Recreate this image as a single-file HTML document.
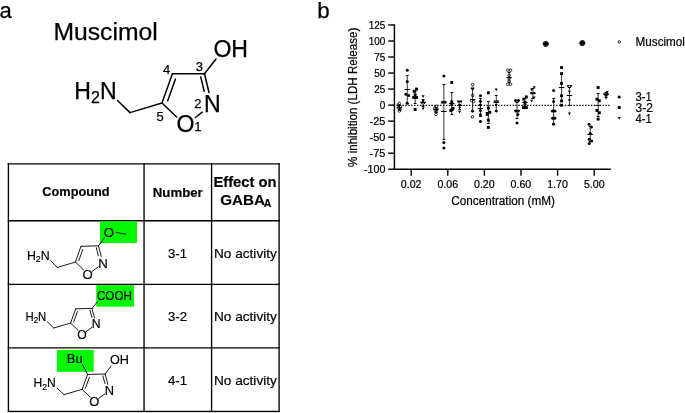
<!DOCTYPE html>
<html lang="en"><head><meta charset="utf-8"><title>Muscimol analogues</title>
<style>html,body{margin:0;padding:0;background:#fff;}svg{display:block}text{font-family:'Liberation Sans', Arial, Helvetica, sans-serif;fill:#000}</style>
</head><body>
<svg width="685" height="413" viewBox="0 0 685 413">
<rect x="0" y="0" width="685" height="413" fill="#fff"/>
<g id="labels" stroke="#000" stroke-width="0.25">
<text x="5.70" y="18.10" font-size="22" font-weight="normal" text-anchor="middle" >a</text>
<text x="323.50" y="18.30" font-size="22.3" font-weight="normal" text-anchor="middle" >b</text>
<text x="53.45" y="39.80" font-size="23.1" font-weight="normal" textLength="104.31" lengthAdjust="spacingAndGlyphs" >Muscimol</text>
</g>
<g id="muscimol" stroke-linecap="round">
<line x1="117.50" y1="100.50" x2="130.00" y2="112.60" stroke="#000" stroke-width="1.5" />
<line x1="130.00" y1="112.60" x2="162.00" y2="103.00" stroke="#000" stroke-width="1.5" />
<line x1="162.00" y1="103.00" x2="172.40" y2="73.80" stroke="#000" stroke-width="1.5" />
<line x1="167.69" y1="100.75" x2="175.38" y2="79.14" stroke="#000" stroke-width="1.5" />
<line x1="172.40" y1="73.80" x2="204.50" y2="73.80" stroke="#000" stroke-width="1.5" />
<line x1="204.50" y1="73.80" x2="216.00" y2="59.00" stroke="#000" stroke-width="1.5" />
<line x1="204.50" y1="73.80" x2="209.00" y2="92.50" stroke="#000" stroke-width="1.5" />
<line x1="200.76" y1="77.07" x2="204.18" y2="91.29" stroke="#000" stroke-width="1.5" />
<line x1="202.20" y1="112.20" x2="195.40" y2="117.50" stroke="#000" stroke-width="1.5" />
<line x1="176.60" y1="117.00" x2="162.00" y2="103.00" stroke="#000" stroke-width="1.5" />
</g>
<g id="muscimol-text">
<style>#muscimol-text text{stroke:#000;stroke-width:0.25px}</style>
<text x="74.3" y="98.6" font-size="23.1">H<tspan font-size="16" dy="4.2">2</tspan><tspan dy="-4.2">N</tspan></text>
<text x="213.41" y="56.90" font-size="23.1" >OH</text>
<text x="203.91" y="111.80" font-size="23.1" >N</text>
<text x="176.51" y="132.00" font-size="23.1" >O</text>
<g font-size="13" text-anchor="middle">
<text x="166.6" y="74.0">4</text>
<text x="199.4" y="71.2">3</text>
<text x="197.8" y="108.2">2</text>
<text x="197.8" y="130.9">1</text>
<text x="160" y="121.4">5</text>
</g>
</g>
<g id="table">
<style>#table text{stroke:#000;stroke-width:0.18px}</style>
<line x1="8.40" y1="163.17" x2="8.40" y2="412.07" stroke="#000" stroke-width="1.35" />
<line x1="144.05" y1="163.17" x2="144.05" y2="412.07" stroke="#000" stroke-width="1.35" />
<line x1="211.60" y1="163.17" x2="211.60" y2="412.07" stroke="#000" stroke-width="1.35" />
<line x1="279.10" y1="163.17" x2="279.10" y2="412.07" stroke="#000" stroke-width="1.35" />
<line x1="7.73" y1="163.85" x2="279.78" y2="163.85" stroke="#000" stroke-width="1.35" />
<line x1="7.73" y1="220.70" x2="279.78" y2="220.70" stroke="#000" stroke-width="1.35" />
<line x1="7.73" y1="284.30" x2="279.78" y2="284.30" stroke="#000" stroke-width="1.35" />
<line x1="7.73" y1="347.90" x2="279.78" y2="347.90" stroke="#000" stroke-width="1.35" />
<line x1="7.73" y1="411.40" x2="279.78" y2="411.40" stroke="#000" stroke-width="1.35" />
<line x1="7.7" y1="412.6" x2="279.8" y2="412.6" stroke="#d4d4d4" stroke-width="0.9"/>
<text x="42.32" y="196.30" font-size="13.6" font-weight="bold" textLength="67.26" lengthAdjust="spacingAndGlyphs" >Compound</text>
<text x="152.82" y="196.70" font-size="13.6" font-weight="bold" textLength="49.96" lengthAdjust="spacingAndGlyphs" >Number</text>
<text x="213.45" y="187.40" font-size="15" font-weight="bold" textLength="63.10" lengthAdjust="spacingAndGlyphs" >Effect on</text>
<text x="220.2" y="204.7" font-size="15.2" font-weight="bold">GABA<tspan font-size="10.5" dy="2.4" dx="-1.2">A</tspan></text>
<text x="167.94" y="257.70" font-size="13.2" font-weight="normal" textLength="19.12" lengthAdjust="spacingAndGlyphs" >3-1</text>
<text x="213.94" y="257.70" font-size="13.2" font-weight="normal" textLength="62.92" lengthAdjust="spacingAndGlyphs" >No activity</text>
<text x="167.94" y="321.40" font-size="13.2" font-weight="normal" textLength="19.12" lengthAdjust="spacingAndGlyphs" >3-2</text>
<text x="213.94" y="321.40" font-size="13.2" font-weight="normal" textLength="62.92" lengthAdjust="spacingAndGlyphs" >No activity</text>
<text x="167.94" y="385.10" font-size="13.2" font-weight="normal" textLength="19.12" lengthAdjust="spacingAndGlyphs" >4-1</text>
<text x="213.94" y="385.10" font-size="13.2" font-weight="normal" textLength="62.92" lengthAdjust="spacingAndGlyphs" >No activity</text>
</g>
<style>.st text{stroke:#000;stroke-width:0.2px}</style>
<g id="row1" class="st">
<rect x="100" y="221.3" width="37.0" height="21.7" fill="#00f900"/>
<g stroke-linecap="round">
<line x1="98.50" y1="245.80" x2="81.00" y2="246.30" stroke="#000" stroke-width="0.9" />
<line x1="81.00" y1="246.30" x2="75.50" y2="262.00" stroke="#000" stroke-width="0.9" />
<line x1="78.82" y1="260.69" x2="82.78" y2="249.39" stroke="#000" stroke-width="0.9" />
<line x1="75.50" y1="262.00" x2="57.30" y2="267.50" stroke="#000" stroke-width="0.9" />
<line x1="57.30" y1="267.50" x2="50.50" y2="260.60" stroke="#000" stroke-width="0.9" />
<line x1="75.50" y1="262.00" x2="83.70" y2="270.10" stroke="#000" stroke-width="0.9" />
<line x1="92.20" y1="271.40" x2="98.30" y2="266.80" stroke="#000" stroke-width="0.9" />
<line x1="98.50" y1="245.80" x2="101.20" y2="256.40" stroke="#000" stroke-width="0.9" />
<line x1="96.30" y1="247.71" x2="98.36" y2="255.77" stroke="#000" stroke-width="0.9" />
</g>
<text x="26.90" y="260.00" font-size="13.21" textLength="22.80" lengthAdjust="spacingAndGlyphs">H<tspan font-size="9.38" dy="2.30">2</tspan><tspan dy="-2.30">N</tspan></text>
<text x="87.60" y="279.10" font-size="13.206" font-weight="normal" text-anchor="middle" >O</text>
<text x="102.90" y="267.60" font-size="13.206" font-weight="normal" text-anchor="middle" >N</text>
<line x1="98.50" y1="245.80" x2="104.60" y2="237.60" stroke="#000" stroke-width="0.9" />
<text x="108.90" y="236.90" font-size="13.2" font-weight="normal" text-anchor="middle" >O</text>
<line x1="115.60" y1="232.20" x2="126.40" y2="234.30" stroke="#000" stroke-width="0.9" />
</g>
<g id="row2" class="st">
<rect x="96.3" y="285.2" width="37.7" height="21.5" fill="#00f900"/>
<g stroke-linecap="round">
<line x1="92.00" y1="308.40" x2="75.72" y2="308.85" stroke="#000" stroke-width="0.9" />
<line x1="75.72" y1="308.85" x2="70.61" y2="323.06" stroke="#000" stroke-width="0.9" />
<line x1="73.69" y1="321.92" x2="77.37" y2="311.69" stroke="#000" stroke-width="0.9" />
<line x1="70.61" y1="323.06" x2="53.68" y2="328.04" stroke="#000" stroke-width="0.9" />
<line x1="53.68" y1="328.04" x2="47.36" y2="321.79" stroke="#000" stroke-width="0.9" />
<line x1="70.61" y1="323.06" x2="78.24" y2="330.39" stroke="#000" stroke-width="0.9" />
<line x1="86.14" y1="331.57" x2="91.81" y2="327.40" stroke="#000" stroke-width="0.9" />
<line x1="92.00" y1="308.40" x2="94.51" y2="317.99" stroke="#000" stroke-width="0.9" />
<line x1="89.96" y1="310.16" x2="91.87" y2="317.45" stroke="#000" stroke-width="0.9" />
</g>
<text x="25.41" y="321.25" font-size="12.12" textLength="20.92" lengthAdjust="spacingAndGlyphs">H<tspan font-size="8.60" dy="2.08">2</tspan><tspan dy="-2.08">N</tspan></text>
<text x="81.86" y="338.54" font-size="12.116505" font-weight="normal" text-anchor="middle" >O</text>
<text x="96.09" y="328.13" font-size="12.116505" font-weight="normal" text-anchor="middle" >N</text>
<line x1="92.00" y1="308.40" x2="97.60" y2="301.60" stroke="#000" stroke-width="0.9" />
<text x="96.94" y="299.60" font-size="13.2" font-weight="normal" textLength="34.92" lengthAdjust="spacingAndGlyphs" >COOH</text>
</g>
<g id="row3" class="st">
<rect x="56.9" y="349.9" width="36.8" height="21.9" fill="#00f900"/>
<g stroke-linecap="round">
<line x1="105.10" y1="374.00" x2="87.60" y2="374.48" stroke="#000" stroke-width="0.9" />
<line x1="87.60" y1="374.48" x2="82.10" y2="389.39" stroke="#000" stroke-width="0.9" />
<line x1="85.40" y1="388.24" x2="89.36" y2="377.50" stroke="#000" stroke-width="0.9" />
<line x1="82.10" y1="389.39" x2="63.90" y2="394.62" stroke="#000" stroke-width="0.9" />
<line x1="63.90" y1="394.62" x2="57.10" y2="388.06" stroke="#000" stroke-width="0.9" />
<line x1="82.10" y1="389.39" x2="90.30" y2="397.08" stroke="#000" stroke-width="0.9" />
<line x1="98.80" y1="398.32" x2="104.90" y2="393.95" stroke="#000" stroke-width="0.9" />
<line x1="105.10" y1="374.00" x2="107.80" y2="384.07" stroke="#000" stroke-width="0.9" />
<line x1="102.91" y1="375.88" x2="104.96" y2="383.53" stroke="#000" stroke-width="0.9" />
</g>
<text x="33.50" y="387.49" font-size="12.88" textLength="22.23" lengthAdjust="spacingAndGlyphs">H<tspan font-size="9.14" dy="2.18">2</tspan><tspan dy="-2.18">N</tspan></text>
<text x="94.20" y="405.63" font-size="12.87585" font-weight="normal" text-anchor="middle" >O</text>
<text x="109.50" y="394.71" font-size="12.87585" font-weight="normal" text-anchor="middle" >N</text>
<line x1="105.10" y1="374.00" x2="111.20" y2="365.80" stroke="#000" stroke-width="0.9" />
<text x="109.94" y="364.20" font-size="13.2" font-weight="normal" textLength="18.92" lengthAdjust="spacingAndGlyphs" >OH</text>
<line x1="87.60" y1="374.50" x2="82.20" y2="364.00" stroke="#000" stroke-width="0.9" />
<text x="66.74" y="363.10" font-size="13.2" font-weight="normal" textLength="15.92" lengthAdjust="spacingAndGlyphs" >Bu</text>
</g>
<g id="chart" style="paint-order:stroke">
<style>#chart text{stroke:#000;stroke-width:0.22px}</style>
<line x1="394.40" y1="24.25" x2="394.40" y2="169.92" stroke="#000" stroke-width="1.4" />
<line x1="393.70" y1="169.22" x2="610.80" y2="169.22" stroke="#000" stroke-width="1.4" />
<line x1="388.20" y1="24.95" x2="394.40" y2="24.95" stroke="#000" stroke-width="1.4" />
<text x="368.72" y="29.20" font-size="10.3" textLength="16.68" lengthAdjust="spacingAndGlyphs">125</text>
<line x1="388.20" y1="40.98" x2="394.40" y2="40.98" stroke="#000" stroke-width="1.4" />
<text x="368.72" y="45.23" font-size="10.3" textLength="16.68" lengthAdjust="spacingAndGlyphs">100</text>
<line x1="388.20" y1="57.01" x2="394.40" y2="57.01" stroke="#000" stroke-width="1.4" />
<text x="374.28" y="61.26" font-size="10.3" textLength="11.12" lengthAdjust="spacingAndGlyphs">75</text>
<line x1="388.20" y1="73.04" x2="394.40" y2="73.04" stroke="#000" stroke-width="1.4" />
<text x="374.28" y="77.29" font-size="10.3" textLength="11.12" lengthAdjust="spacingAndGlyphs">50</text>
<line x1="388.20" y1="89.07" x2="394.40" y2="89.07" stroke="#000" stroke-width="1.4" />
<text x="374.28" y="93.32" font-size="10.3" textLength="11.12" lengthAdjust="spacingAndGlyphs">25</text>
<line x1="388.20" y1="105.10" x2="394.40" y2="105.10" stroke="#000" stroke-width="1.4" />
<text x="379.84" y="109.35" font-size="10.3" textLength="5.56" lengthAdjust="spacingAndGlyphs">0</text>
<line x1="388.20" y1="121.13" x2="394.40" y2="121.13" stroke="#000" stroke-width="1.4" />
<text x="369.55" y="125.38" font-size="10.3" textLength="15.85" lengthAdjust="spacingAndGlyphs">-25</text>
<line x1="388.20" y1="137.16" x2="394.40" y2="137.16" stroke="#000" stroke-width="1.4" />
<text x="369.55" y="141.41" font-size="10.3" textLength="15.85" lengthAdjust="spacingAndGlyphs">-50</text>
<line x1="388.20" y1="153.19" x2="394.40" y2="153.19" stroke="#000" stroke-width="1.4" />
<text x="369.55" y="157.44" font-size="10.3" textLength="15.85" lengthAdjust="spacingAndGlyphs">-75</text>
<line x1="388.20" y1="169.22" x2="394.40" y2="169.22" stroke="#000" stroke-width="1.4" />
<text x="363.99" y="173.47" font-size="10.3" textLength="21.41" lengthAdjust="spacingAndGlyphs">-100</text>
<line x1="411.20" y1="169.22" x2="411.20" y2="175.70" stroke="#000" stroke-width="1.4" />
<text x="400.8" y="187.8" font-size="10.4" textLength="20.7" lengthAdjust="spacingAndGlyphs">0.02</text>
<line x1="447.80" y1="169.22" x2="447.80" y2="175.70" stroke="#000" stroke-width="1.4" />
<text x="437.4" y="187.8" font-size="10.4" textLength="20.7" lengthAdjust="spacingAndGlyphs">0.06</text>
<line x1="484.40" y1="169.22" x2="484.40" y2="175.70" stroke="#000" stroke-width="1.4" />
<text x="474.0" y="187.8" font-size="10.4" textLength="20.7" lengthAdjust="spacingAndGlyphs">0.20</text>
<line x1="521.00" y1="169.22" x2="521.00" y2="175.70" stroke="#000" stroke-width="1.4" />
<text x="510.6" y="187.8" font-size="10.4" textLength="20.7" lengthAdjust="spacingAndGlyphs">0.60</text>
<line x1="557.60" y1="169.22" x2="557.60" y2="175.70" stroke="#000" stroke-width="1.4" />
<text x="547.2" y="187.8" font-size="10.4" textLength="20.7" lengthAdjust="spacingAndGlyphs">1.70</text>
<line x1="594.20" y1="169.22" x2="594.20" y2="175.70" stroke="#000" stroke-width="1.4" />
<text x="583.9" y="187.8" font-size="10.4" textLength="20.7" lengthAdjust="spacingAndGlyphs">5.00</text>
<line x1="393.70" y1="105.30" x2="610.00" y2="105.30" stroke="#000" stroke-width="1.2" stroke-dasharray="1.4 1.5"/>
<text x="451.29" y="204.80" font-size="12.1" font-weight="normal" textLength="103.61" lengthAdjust="spacingAndGlyphs" >Concentration (mM)</text>
<text transform="translate(356.9 166.9) rotate(-90)" font-size="12" textLength="139.2" lengthAdjust="spacingAndGlyphs">% inhibition (LDH Release)</text>
<line x1="399.35" y1="105.50" x2="399.35" y2="109.50" stroke="#000" stroke-width="0.8" />
<line x1="397.95" y1="105.50" x2="400.75" y2="105.50" stroke="#000" stroke-width="1.0" />
<line x1="397.95" y1="109.50" x2="400.75" y2="109.50" stroke="#000" stroke-width="1.0" />
<line x1="396.65" y1="107.50" x2="402.05" y2="107.50" stroke="#000" stroke-width="1.0" />
<circle cx="399.35" cy="103.50" r="1.3" fill="none" stroke="#000" stroke-width="0.8"/>
<circle cx="398.35" cy="105.00" r="1.3" fill="none" stroke="#000" stroke-width="0.8"/>
<circle cx="400.35" cy="106.50" r="1.3" fill="none" stroke="#000" stroke-width="0.8"/>
<circle cx="398.55" cy="108.00" r="1.3" fill="none" stroke="#000" stroke-width="0.8"/>
<circle cx="400.15" cy="109.50" r="1.3" fill="none" stroke="#000" stroke-width="0.8"/>
<circle cx="399.35" cy="111.00" r="1.3" fill="none" stroke="#000" stroke-width="0.8"/>
<line x1="407.25" y1="75.50" x2="407.25" y2="103.50" stroke="#000" stroke-width="0.8" />
<line x1="405.85" y1="75.50" x2="408.65" y2="75.50" stroke="#000" stroke-width="1.0" />
<line x1="405.85" y1="103.50" x2="408.65" y2="103.50" stroke="#000" stroke-width="1.0" />
<line x1="404.55" y1="89.50" x2="409.95" y2="89.50" stroke="#000" stroke-width="1.0" />
<circle cx="407.25" cy="70.20" r="1.5" fill="#000"/>
<circle cx="407.25" cy="81.40" r="1.5" fill="#000"/>
<circle cx="405.85" cy="94.20" r="1.5" fill="#000"/>
<circle cx="408.65" cy="95.60" r="1.5" fill="#000"/>
<circle cx="407.25" cy="103.20" r="1.5" fill="#000"/>
<line x1="415.15" y1="91.50" x2="415.15" y2="103.50" stroke="#000" stroke-width="0.8" />
<line x1="413.75" y1="91.50" x2="416.55" y2="91.50" stroke="#000" stroke-width="1.0" />
<line x1="413.75" y1="103.50" x2="416.55" y2="103.50" stroke="#000" stroke-width="1.0" />
<line x1="412.45" y1="97.50" x2="417.85" y2="97.50" stroke="#000" stroke-width="1.0" />
<rect x="415.10" y="87.65" width="2.9" height="2.9" fill="#000"/>
<rect x="412.70" y="89.85" width="2.9" height="2.9" fill="#000"/>
<rect x="413.70" y="93.45" width="2.9" height="2.9" fill="#000"/>
<rect x="412.30" y="96.05" width="2.9" height="2.9" fill="#000"/>
<rect x="415.10" y="96.05" width="2.9" height="2.9" fill="#000"/>
<rect x="413.70" y="108.05" width="2.9" height="2.9" fill="#000"/>
<line x1="423.05" y1="99.50" x2="423.05" y2="106.50" stroke="#000" stroke-width="0.8" />
<line x1="421.65" y1="99.50" x2="424.45" y2="99.50" stroke="#000" stroke-width="1.0" />
<line x1="421.65" y1="106.50" x2="424.45" y2="106.50" stroke="#000" stroke-width="1.0" />
<line x1="420.35" y1="102.50" x2="425.75" y2="102.50" stroke="#000" stroke-width="1.0" />
<path d="M421.55 95.20L424.55 95.20L423.05 98.00Z" fill="#000"/>
<path d="M421.55 100.00L424.55 100.00L423.05 102.80Z" fill="#000"/>
<path d="M420.15 101.70L423.15 101.70L421.65 104.50Z" fill="#000"/>
<path d="M422.95 101.70L425.95 101.70L424.45 104.50Z" fill="#000"/>
<path d="M421.55 105.30L424.55 105.30L423.05 108.10Z" fill="#000"/>
<path d="M421.55 107.50L424.55 107.50L423.05 110.30Z" fill="#000"/>
<line x1="435.95" y1="107.50" x2="435.95" y2="112.50" stroke="#000" stroke-width="0.8" />
<line x1="434.55" y1="107.50" x2="437.35" y2="107.50" stroke="#000" stroke-width="1.0" />
<line x1="434.55" y1="112.50" x2="437.35" y2="112.50" stroke="#000" stroke-width="1.0" />
<line x1="433.25" y1="109.50" x2="438.65" y2="109.50" stroke="#000" stroke-width="1.0" />
<circle cx="436.45" cy="106.50" r="1.3" fill="none" stroke="#000" stroke-width="0.8"/>
<circle cx="434.95" cy="108.00" r="1.3" fill="none" stroke="#000" stroke-width="0.8"/>
<circle cx="436.95" cy="109.00" r="1.3" fill="none" stroke="#000" stroke-width="0.8"/>
<circle cx="435.45" cy="110.50" r="1.3" fill="none" stroke="#000" stroke-width="0.8"/>
<circle cx="436.45" cy="111.50" r="1.3" fill="none" stroke="#000" stroke-width="0.8"/>
<circle cx="435.95" cy="114.30" r="1.3" fill="none" stroke="#000" stroke-width="0.8"/>
<line x1="443.85" y1="84.50" x2="443.85" y2="139.50" stroke="#000" stroke-width="0.8" />
<line x1="442.45" y1="84.50" x2="445.25" y2="84.50" stroke="#000" stroke-width="1.0" />
<line x1="442.45" y1="139.50" x2="445.25" y2="139.50" stroke="#000" stroke-width="1.0" />
<line x1="441.15" y1="111.50" x2="446.55" y2="111.50" stroke="#000" stroke-width="1.0" />
<circle cx="443.85" cy="76.10" r="1.5" fill="#000"/>
<circle cx="442.45" cy="102.30" r="1.5" fill="#000"/>
<circle cx="445.25" cy="102.30" r="1.5" fill="#000"/>
<circle cx="443.85" cy="142.60" r="1.5" fill="#000"/>
<circle cx="443.85" cy="148.10" r="1.5" fill="#000"/>
<line x1="451.75" y1="92.50" x2="451.75" y2="114.50" stroke="#000" stroke-width="0.8" />
<line x1="450.35" y1="92.50" x2="453.15" y2="92.50" stroke="#000" stroke-width="1.0" />
<line x1="450.35" y1="114.50" x2="453.15" y2="114.50" stroke="#000" stroke-width="1.0" />
<line x1="449.05" y1="103.50" x2="454.45" y2="103.50" stroke="#000" stroke-width="1.0" />
<rect x="450.30" y="81.05" width="2.9" height="2.9" fill="#000"/>
<rect x="450.30" y="100.35" width="2.9" height="2.9" fill="#000"/>
<rect x="450.30" y="102.95" width="2.9" height="2.9" fill="#000"/>
<rect x="451.50" y="106.85" width="2.9" height="2.9" fill="#000"/>
<rect x="449.40" y="109.05" width="2.9" height="2.9" fill="#000"/>
<rect x="450.70" y="108.15" width="2.9" height="2.9" fill="#000"/>
<line x1="459.65" y1="101.50" x2="459.65" y2="109.50" stroke="#000" stroke-width="0.8" />
<line x1="458.25" y1="101.50" x2="461.05" y2="101.50" stroke="#000" stroke-width="1.0" />
<line x1="458.25" y1="109.50" x2="461.05" y2="109.50" stroke="#000" stroke-width="1.0" />
<line x1="456.95" y1="105.50" x2="462.35" y2="105.50" stroke="#000" stroke-width="1.0" />
<path d="M456.75 100.60L459.75 100.60L458.25 103.40Z" fill="#000"/>
<path d="M459.55 100.60L462.55 100.60L461.05 103.40Z" fill="#000"/>
<path d="M458.15 104.00L461.15 104.00L459.65 106.80Z" fill="#000"/>
<path d="M458.15 106.80L461.15 106.80L459.65 109.60Z" fill="#000"/>
<path d="M458.15 110.70L461.15 110.70L459.65 113.50Z" fill="#000"/>
<line x1="472.55" y1="88.50" x2="472.55" y2="111.50" stroke="#000" stroke-width="0.8" />
<line x1="471.15" y1="88.50" x2="473.95" y2="88.50" stroke="#000" stroke-width="1.0" />
<line x1="471.15" y1="111.50" x2="473.95" y2="111.50" stroke="#000" stroke-width="1.0" />
<line x1="469.85" y1="99.50" x2="475.25" y2="99.50" stroke="#000" stroke-width="1.0" />
<circle cx="472.55" cy="84.50" r="1.3" fill="none" stroke="#000" stroke-width="0.8"/>
<circle cx="472.55" cy="88.40" r="1.3" fill="none" stroke="#000" stroke-width="0.8"/>
<circle cx="472.55" cy="95.40" r="1.3" fill="none" stroke="#000" stroke-width="0.8"/>
<circle cx="471.55" cy="100.40" r="1.3" fill="none" stroke="#000" stroke-width="0.8"/>
<circle cx="473.55" cy="101.50" r="1.3" fill="none" stroke="#000" stroke-width="0.8"/>
<circle cx="472.55" cy="111.10" r="1.3" fill="none" stroke="#000" stroke-width="0.8"/>
<circle cx="472.55" cy="116.90" r="1.3" fill="none" stroke="#000" stroke-width="0.8"/>
<line x1="480.45" y1="98.50" x2="480.45" y2="116.50" stroke="#000" stroke-width="0.8" />
<line x1="479.05" y1="98.50" x2="481.85" y2="98.50" stroke="#000" stroke-width="1.0" />
<line x1="479.05" y1="116.50" x2="481.85" y2="116.50" stroke="#000" stroke-width="1.0" />
<line x1="477.75" y1="108.50" x2="483.15" y2="108.50" stroke="#000" stroke-width="1.0" />
<circle cx="480.45" cy="95.70" r="1.5" fill="#000"/>
<circle cx="480.45" cy="101.30" r="1.5" fill="#000"/>
<circle cx="480.45" cy="104.90" r="1.5" fill="#000"/>
<circle cx="480.45" cy="110.60" r="1.5" fill="#000"/>
<circle cx="480.45" cy="114.80" r="1.5" fill="#000"/>
<circle cx="480.45" cy="121.60" r="1.5" fill="#000"/>
<line x1="488.35" y1="101.50" x2="488.35" y2="123.50" stroke="#000" stroke-width="0.8" />
<line x1="486.95" y1="101.50" x2="489.75" y2="101.50" stroke="#000" stroke-width="1.0" />
<line x1="486.95" y1="123.50" x2="489.75" y2="123.50" stroke="#000" stroke-width="1.0" />
<line x1="485.65" y1="112.50" x2="491.05" y2="112.50" stroke="#000" stroke-width="1.0" />
<rect x="486.90" y="91.35" width="2.9" height="2.9" fill="#000"/>
<rect x="486.90" y="106.65" width="2.9" height="2.9" fill="#000"/>
<rect x="488.30" y="110.85" width="2.9" height="2.9" fill="#000"/>
<rect x="485.70" y="112.95" width="2.9" height="2.9" fill="#000"/>
<rect x="486.90" y="118.65" width="2.9" height="2.9" fill="#000"/>
<rect x="486.90" y="125.95" width="2.9" height="2.9" fill="#000"/>
<line x1="496.25" y1="95.50" x2="496.25" y2="111.50" stroke="#000" stroke-width="0.8" />
<line x1="494.85" y1="95.50" x2="497.65" y2="95.50" stroke="#000" stroke-width="1.0" />
<line x1="494.85" y1="111.50" x2="497.65" y2="111.50" stroke="#000" stroke-width="1.0" />
<line x1="493.55" y1="102.50" x2="498.95" y2="102.50" stroke="#000" stroke-width="1.0" />
<path d="M494.75 88.50L497.75 88.50L496.25 91.30Z" fill="#000"/>
<path d="M493.35 100.40L496.35 100.40L494.85 103.20Z" fill="#000"/>
<path d="M496.15 100.40L499.15 100.40L497.65 103.20Z" fill="#000"/>
<path d="M494.75 104.00L497.75 104.00L496.25 106.80Z" fill="#000"/>
<path d="M494.75 110.10L497.75 110.10L496.25 112.90Z" fill="#000"/>
<line x1="509.15" y1="72.50" x2="509.15" y2="82.50" stroke="#000" stroke-width="0.8" />
<line x1="507.75" y1="72.50" x2="510.55" y2="72.50" stroke="#000" stroke-width="1.0" />
<line x1="507.75" y1="82.50" x2="510.55" y2="82.50" stroke="#000" stroke-width="1.0" />
<line x1="506.45" y1="77.50" x2="511.85" y2="77.50" stroke="#000" stroke-width="1.0" />
<circle cx="507.75" cy="70.20" r="1.3" fill="none" stroke="#000" stroke-width="0.8"/>
<circle cx="510.55" cy="70.20" r="1.3" fill="none" stroke="#000" stroke-width="0.8"/>
<circle cx="509.15" cy="75.40" r="1.3" fill="none" stroke="#000" stroke-width="0.8"/>
<circle cx="509.15" cy="78.50" r="1.3" fill="none" stroke="#000" stroke-width="0.8"/>
<circle cx="509.15" cy="81.10" r="1.3" fill="none" stroke="#000" stroke-width="0.8"/>
<circle cx="507.75" cy="84.30" r="1.3" fill="none" stroke="#000" stroke-width="0.8"/>
<circle cx="510.55" cy="84.30" r="1.3" fill="none" stroke="#000" stroke-width="0.8"/>
<line x1="517.05" y1="102.50" x2="517.05" y2="118.50" stroke="#000" stroke-width="0.8" />
<line x1="515.65" y1="102.50" x2="518.45" y2="102.50" stroke="#000" stroke-width="1.0" />
<line x1="515.65" y1="118.50" x2="518.45" y2="118.50" stroke="#000" stroke-width="1.0" />
<line x1="514.35" y1="110.50" x2="519.75" y2="110.50" stroke="#000" stroke-width="1.0" />
<circle cx="515.65" cy="100.50" r="1.5" fill="#000"/>
<circle cx="518.45" cy="100.50" r="1.5" fill="#000"/>
<circle cx="515.85" cy="111.00" r="1.5" fill="#000"/>
<circle cx="518.25" cy="111.00" r="1.5" fill="#000"/>
<circle cx="517.85" cy="114.40" r="1.5" fill="#000"/>
<circle cx="517.05" cy="123.00" r="1.5" fill="#000"/>
<line x1="524.95" y1="98.50" x2="524.95" y2="107.50" stroke="#000" stroke-width="0.8" />
<line x1="523.55" y1="98.50" x2="526.35" y2="98.50" stroke="#000" stroke-width="1.0" />
<line x1="523.55" y1="107.50" x2="526.35" y2="107.50" stroke="#000" stroke-width="1.0" />
<line x1="522.25" y1="102.50" x2="527.65" y2="102.50" stroke="#000" stroke-width="1.0" />
<rect x="524.90" y="95.45" width="2.9" height="2.9" fill="#000"/>
<rect x="522.30" y="97.65" width="2.9" height="2.9" fill="#000"/>
<rect x="523.50" y="100.95" width="2.9" height="2.9" fill="#000"/>
<rect x="523.50" y="104.05" width="2.9" height="2.9" fill="#000"/>
<rect x="522.10" y="106.15" width="2.9" height="2.9" fill="#000"/>
<rect x="524.90" y="106.15" width="2.9" height="2.9" fill="#000"/>
<line x1="532.85" y1="88.50" x2="532.85" y2="98.50" stroke="#000" stroke-width="0.8" />
<line x1="531.45" y1="88.50" x2="534.25" y2="88.50" stroke="#000" stroke-width="1.0" />
<line x1="531.45" y1="98.50" x2="534.25" y2="98.50" stroke="#000" stroke-width="1.0" />
<line x1="530.15" y1="93.50" x2="535.55" y2="93.50" stroke="#000" stroke-width="1.0" />
<path d="M532.75 86.20L535.75 86.20L534.25 89.00Z" fill="#000"/>
<path d="M530.15 88.50L533.15 88.50L531.65 91.30Z" fill="#000"/>
<path d="M529.95 91.90L532.95 91.90L531.45 94.70Z" fill="#000"/>
<path d="M532.75 91.90L535.75 91.90L534.25 94.70Z" fill="#000"/>
<path d="M532.55 96.50L535.55 96.50L534.05 99.30Z" fill="#000"/>
<path d="M530.15 99.70L533.15 99.70L531.65 102.50Z" fill="#000"/>
<line x1="545.75" y1="43.50" x2="545.75" y2="44.50" stroke="#000" stroke-width="0.8" />
<line x1="544.35" y1="43.50" x2="547.15" y2="43.50" stroke="#000" stroke-width="1.0" />
<line x1="544.35" y1="44.50" x2="547.15" y2="44.50" stroke="#000" stroke-width="1.0" />
<line x1="543.05" y1="43.50" x2="548.45" y2="43.50" stroke="#000" stroke-width="1.0" />
<circle cx="544.45" cy="43.10" r="1.3" fill="none" stroke="#000" stroke-width="0.8"/>
<circle cx="547.05" cy="44.50" r="1.3" fill="none" stroke="#000" stroke-width="0.8"/>
<circle cx="545.15" cy="45.10" r="1.3" fill="none" stroke="#000" stroke-width="0.8"/>
<circle cx="546.45" cy="42.70" r="1.3" fill="none" stroke="#000" stroke-width="0.8"/>
<circle cx="545.75" cy="43.90" r="1.3" fill="none" stroke="#000" stroke-width="0.8"/>
<circle cx="544.55" cy="44.40" r="1.3" fill="none" stroke="#000" stroke-width="0.8"/>
<circle cx="546.85" cy="43.40" r="1.3" fill="none" stroke="#000" stroke-width="0.8"/>
<circle cx="545.95" cy="45.20" r="1.3" fill="none" stroke="#000" stroke-width="0.8"/>
<circle cx="545.45" cy="42.80" r="1.3" fill="none" stroke="#000" stroke-width="0.8"/>
<line x1="553.65" y1="98.50" x2="553.65" y2="123.50" stroke="#000" stroke-width="0.8" />
<line x1="552.25" y1="98.50" x2="555.05" y2="98.50" stroke="#000" stroke-width="1.0" />
<line x1="552.25" y1="123.50" x2="555.05" y2="123.50" stroke="#000" stroke-width="1.0" />
<line x1="550.95" y1="111.50" x2="556.35" y2="111.50" stroke="#000" stroke-width="1.0" />
<circle cx="553.65" cy="90.40" r="1.5" fill="#000"/>
<circle cx="553.65" cy="101.40" r="1.5" fill="#000"/>
<circle cx="552.45" cy="111.00" r="1.5" fill="#000"/>
<circle cx="554.85" cy="111.00" r="1.5" fill="#000"/>
<circle cx="552.65" cy="118.20" r="1.5" fill="#000"/>
<circle cx="554.85" cy="118.20" r="1.5" fill="#000"/>
<circle cx="553.65" cy="124.30" r="1.5" fill="#000"/>
<line x1="561.55" y1="74.50" x2="561.55" y2="101.50" stroke="#000" stroke-width="0.8" />
<line x1="560.15" y1="74.50" x2="562.95" y2="74.50" stroke="#000" stroke-width="1.0" />
<line x1="560.15" y1="101.50" x2="562.95" y2="101.50" stroke="#000" stroke-width="1.0" />
<line x1="558.85" y1="87.50" x2="564.25" y2="87.50" stroke="#000" stroke-width="1.0" />
<rect x="560.10" y="66.05" width="2.9" height="2.9" fill="#000"/>
<rect x="560.10" y="72.15" width="2.9" height="2.9" fill="#000"/>
<rect x="560.10" y="81.95" width="2.9" height="2.9" fill="#000"/>
<rect x="560.10" y="94.35" width="2.9" height="2.9" fill="#000"/>
<rect x="560.10" y="99.55" width="2.9" height="2.9" fill="#000"/>
<rect x="560.10" y="103.75" width="2.9" height="2.9" fill="#000"/>
<line x1="569.45" y1="87.50" x2="569.45" y2="105.50" stroke="#000" stroke-width="0.8" />
<line x1="568.05" y1="87.50" x2="570.85" y2="87.50" stroke="#000" stroke-width="1.0" />
<line x1="568.05" y1="105.50" x2="570.85" y2="105.50" stroke="#000" stroke-width="1.0" />
<line x1="566.75" y1="95.50" x2="572.15" y2="95.50" stroke="#000" stroke-width="1.0" />
<path d="M566.55 84.90L569.55 84.90L568.05 87.70Z" fill="#000"/>
<path d="M569.35 84.90L572.35 84.90L570.85 87.70Z" fill="#000"/>
<path d="M567.95 90.80L570.95 90.80L569.45 93.60Z" fill="#000"/>
<path d="M567.95 99.30L570.95 99.30L569.45 102.10Z" fill="#000"/>
<path d="M567.95 112.40L570.95 112.40L569.45 115.20Z" fill="#000"/>
<line x1="582.35" y1="42.50" x2="582.35" y2="43.50" stroke="#000" stroke-width="0.8" />
<line x1="580.95" y1="42.50" x2="583.75" y2="42.50" stroke="#000" stroke-width="1.0" />
<line x1="580.95" y1="43.50" x2="583.75" y2="43.50" stroke="#000" stroke-width="1.0" />
<line x1="579.65" y1="43.50" x2="585.05" y2="43.50" stroke="#000" stroke-width="1.0" />
<circle cx="581.05" cy="42.30" r="1.3" fill="none" stroke="#000" stroke-width="0.8"/>
<circle cx="583.65" cy="43.70" r="1.3" fill="none" stroke="#000" stroke-width="0.8"/>
<circle cx="581.75" cy="44.30" r="1.3" fill="none" stroke="#000" stroke-width="0.8"/>
<circle cx="583.05" cy="41.90" r="1.3" fill="none" stroke="#000" stroke-width="0.8"/>
<circle cx="582.35" cy="43.10" r="1.3" fill="none" stroke="#000" stroke-width="0.8"/>
<circle cx="581.15" cy="43.60" r="1.3" fill="none" stroke="#000" stroke-width="0.8"/>
<circle cx="583.45" cy="42.60" r="1.3" fill="none" stroke="#000" stroke-width="0.8"/>
<circle cx="582.55" cy="44.40" r="1.3" fill="none" stroke="#000" stroke-width="0.8"/>
<circle cx="582.05" cy="42.00" r="1.3" fill="none" stroke="#000" stroke-width="0.8"/>
<line x1="590.25" y1="126.50" x2="590.25" y2="141.50" stroke="#000" stroke-width="0.8" />
<line x1="588.85" y1="126.50" x2="591.65" y2="126.50" stroke="#000" stroke-width="1.0" />
<line x1="588.85" y1="141.50" x2="591.65" y2="141.50" stroke="#000" stroke-width="1.0" />
<line x1="587.55" y1="134.50" x2="592.95" y2="134.50" stroke="#000" stroke-width="1.0" />
<circle cx="589.05" cy="124.30" r="1.5" fill="#000"/>
<circle cx="591.45" cy="126.90" r="1.5" fill="#000"/>
<circle cx="590.25" cy="133.50" r="1.5" fill="#000"/>
<circle cx="589.25" cy="139.30" r="1.5" fill="#000"/>
<circle cx="591.65" cy="141.10" r="1.5" fill="#000"/>
<circle cx="589.25" cy="143.50" r="1.5" fill="#000"/>
<line x1="598.15" y1="93.50" x2="598.15" y2="116.50" stroke="#000" stroke-width="0.8" />
<line x1="596.75" y1="93.50" x2="599.55" y2="93.50" stroke="#000" stroke-width="1.0" />
<line x1="596.75" y1="116.50" x2="599.55" y2="116.50" stroke="#000" stroke-width="1.0" />
<line x1="595.45" y1="105.50" x2="600.85" y2="105.50" stroke="#000" stroke-width="1.0" />
<rect x="596.70" y="86.05" width="2.9" height="2.9" fill="#000"/>
<rect x="595.50" y="97.75" width="2.9" height="2.9" fill="#000"/>
<rect x="597.90" y="99.35" width="2.9" height="2.9" fill="#000"/>
<rect x="595.50" y="108.95" width="2.9" height="2.9" fill="#000"/>
<rect x="597.90" y="111.35" width="2.9" height="2.9" fill="#000"/>
<rect x="596.70" y="117.65" width="2.9" height="2.9" fill="#000"/>
<line x1="606.05" y1="92.50" x2="606.05" y2="97.50" stroke="#000" stroke-width="0.8" />
<line x1="604.65" y1="92.50" x2="607.45" y2="92.50" stroke="#000" stroke-width="1.0" />
<line x1="604.65" y1="97.50" x2="607.45" y2="97.50" stroke="#000" stroke-width="1.0" />
<line x1="603.35" y1="94.50" x2="608.75" y2="94.50" stroke="#000" stroke-width="1.0" />
<path d="M605.75 91.10L608.75 91.10L607.25 93.90Z" fill="#000"/>
<path d="M603.15 93.20L606.15 93.20L604.65 96.00Z" fill="#000"/>
<path d="M605.95 93.20L608.95 93.20L607.45 96.00Z" fill="#000"/>
<path d="M604.55 94.80L607.55 94.80L606.05 97.60Z" fill="#000"/>
<path d="M604.55 96.80L607.55 96.80L606.05 99.60Z" fill="#000"/>
<circle cx="619.20" cy="41.90" r="1.3" fill="none" stroke="#000" stroke-width="0.8"/>
<text x="635.58" y="46.10" font-size="12.4" font-weight="normal" textLength="49.34" lengthAdjust="spacingAndGlyphs" >Muscimol</text>
<circle cx="619.20" cy="96.90" r="1.5" fill="#000"/>
<text x="635.58" y="101.10" font-size="12.4" font-weight="normal" textLength="16.34" lengthAdjust="spacingAndGlyphs" >3-1</text>
<rect x="617.75" y="106.05" width="2.9" height="2.9" fill="#000"/>
<text x="635.58" y="111.80" font-size="12.4" font-weight="normal" textLength="17.34" lengthAdjust="spacingAndGlyphs" >3-2</text>
<path d="M617.70 117.00L620.70 117.00L619.20 119.80Z" fill="#000"/>
<text x="635.58" y="122.50" font-size="12.4" font-weight="normal" textLength="16.34" lengthAdjust="spacingAndGlyphs" >4-1</text>
</g>
</svg></body></html>
